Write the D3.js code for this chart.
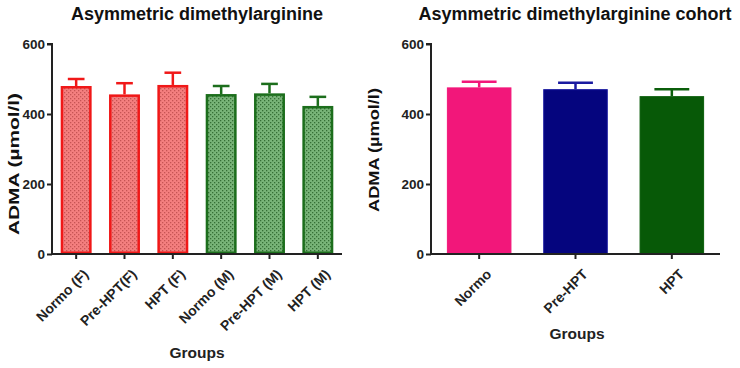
<!DOCTYPE html>
<html><head><meta charset="utf-8">
<script src="https://cdn.jsdelivr.net/npm/d3@7"></script>
<style>body{margin:0;background:#fff}svg{display:block}text{font-family:Arial,"Liberation Sans",sans-serif;font-weight:bold}</style>
</head><body><svg id="c" width="740" height="368"></svg>
<script>
const leftCategories = ["Normo (F)", "Pre-HPT(F)", "HPT (F)", "Normo (M)", "Pre-HPT (M)", "HPT (M)"];
const leftMeans = [480, 456, 483, 457, 459, 423];
const leftUpper = [500, 488, 518, 480, 486, 449];
const leftSex = ["F", "F", "F", "M", "M", "M"];
const rightCategories = ["Normo", "Pre-HPT", "HPT"];
const rightMeans = [476, 471, 451];
const rightUpper = [492, 489, 471];
const yTicks = [0, 200, 400, 600];

const svg = d3.select("#c");
const defs = svg.append("defs");
function pat(id, bg, dot) {
  const p = defs.append("pattern").attr("id", id).attr("patternUnits", "userSpaceOnUse")
    .attr("width", 4).attr("height", 4);
  p.append("rect").attr("width", 4).attr("height", 4).attr("fill", bg);
  p.append("rect").attr("x", 0).attr("y", 0).attr("width", 1.3).attr("height", 1.3).attr("fill", dot);
  p.append("rect").attr("x", 2).attr("y", 2).attr("width", 1.3).attr("height", 1.3).attr("fill", dot);
}
pat("pF", "#f47f7f", "#c65454");
pat("pM", "#78b478", "#356f35");

const plotTop = 44, plotBottom = 254;
const y = d3.scaleLinear().domain([0, 600]).range([plotBottom, plotTop]);
const FONT = "Arial, Liberation Sans, sans-serif";

function panel(opts) {
  const g = svg.append("g");
  const x = d3.scaleBand().domain(opts.cats).range([opts.x0, opts.x1]).paddingInner(opts.pad).paddingOuter(opts.pad / 2);
  opts.cats.forEach((c, i) => {
    const bx = x(c), bw = x.bandwidth();
    const col = opts.stroke(i);
    const cx = bx + bw / 2;
    g.append("line").attr("x1", cx).attr("x2", cx).attr("y1", y(opts.means[i])).attr("y2", y(opts.upper[i]))
      .attr("stroke", col).attr("stroke-width", 2.5);
    g.append("line").attr("x1", cx - bw * 0.27).attr("x2", cx + bw * 0.27).attr("y1", y(opts.upper[i])).attr("y2", y(opts.upper[i]))
      .attr("stroke", col).attr("stroke-width", 2.5);
    g.append("rect").attr("x", bx + opts.sw / 2).attr("y", y(opts.means[i]) + opts.sw / 2)
      .attr("width", bw - opts.sw).attr("height", y(0) - y(opts.means[i]) - opts.sw)
      .attr("fill", opts.fill(i)).attr("stroke", col).attr("stroke-width", opts.sw);
  });
  const ya = g.append("g").attr("transform", `translate(${opts.x0},0)`)
    .call(d3.axisLeft(y).tickValues(yTicks).tickSize(5).tickPadding(2));
  ya.select(".domain").attr("stroke", "#222").attr("stroke-width", 2).attr("d", `M-5,${plotTop}H0V${plotBottom}`);
  ya.selectAll(".tick line").attr("stroke", "#222").attr("stroke-width", 2);
  ya.selectAll(".tick text").attr("font-size", 13.5).attr("font-weight", "bold").attr("fill", "#222").attr("font-family", FONT);
  const xa = g.append("g").attr("transform", `translate(0,${plotBottom})`)
    .call(d3.axisBottom(x).tickSize(5).tickSizeOuter(0).tickPadding(3));
  xa.select(".domain").attr("stroke", "#222").attr("stroke-width", 2).attr("d", `M${opts.x0},0H${opts.x1}`);
  xa.selectAll(".tick line").attr("stroke", "#222").attr("stroke-width", 2);
  xa.selectAll(".tick text").attr("font-size", 14).attr("font-weight", "bold").attr("fill", "#222")
    .attr("font-family", FONT)
    .attr("text-anchor", "end").attr("dy", "0.35em")
    .attr("transform", "translate(4,12) rotate(-45)");
  g.append("text").attr("x", opts.tx).attr("y", 20).attr("text-anchor", "middle").attr("font-size", 18).attr("fill", "#111").text(opts.title);
  g.append("text").attr("transform", `translate(${opts.ylx},${opts.lyc}) rotate(-90)`).attr("text-anchor", "middle")
    .attr("font-size", 15).attr("textLength", opts.ylen).attr("lengthAdjust", "spacingAndGlyphs")
    .attr("fill", "#111").text("ADMA (µmol/l)");
  g.append("text").attr("x", opts.gx).attr("y", opts.gy).attr("text-anchor", "middle").attr("font-size", 15.5).attr("fill", "#222").text("Groups");
}

panel({
  cats: leftCategories, means: leftMeans, upper: leftUpper, x0: 52, x1: 342, pad: 0.36, sw: 2.5,
  stroke: i => leftSex[i] === "F" ? "#f01818" : "#1c6e1c",
  fill: i => leftSex[i] === "F" ? "url(#pF)" : "url(#pM)",
  title: "Asymmetric dimethylarginine", tx: 197, ylx: 19, lyc: 164, ylen: 142, gx: 197, gy: 358
});
const rightFill = ["#f2177a", "#05057e", "#075907"];
const rightStroke = ["#f2177a", "#1a1aa0", "#0b5e0b"];
panel({
  cats: rightCategories, means: rightMeans, upper: rightUpper, x0: 431, x1: 720, pad: 0.33, sw: 1,
  stroke: i => rightStroke[i], fill: i => rightFill[i],
  title: "Asymmetric dimethylarginine cohort", tx: 575, ylx: 379, lyc: 150, ylen: 124, gx: 577, gy: 339
});
</script></body></html>
